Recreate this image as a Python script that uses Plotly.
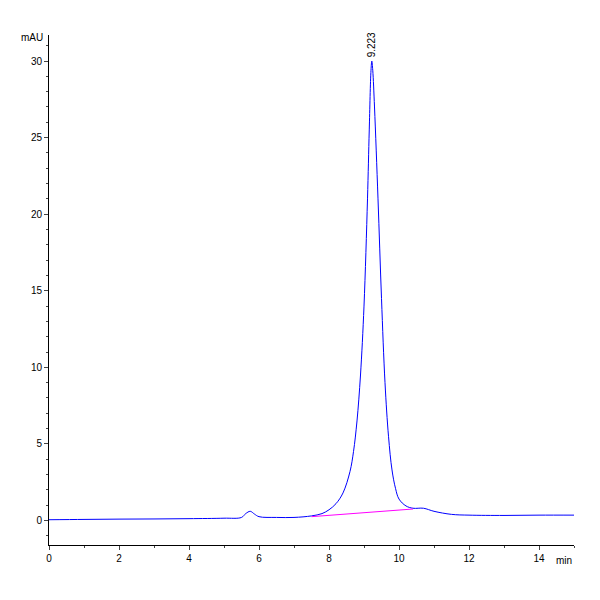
import plotly.graph_objects as go

# signal (min, mAU)
time_min = [0, 1, 2, 3, 4, 5, 5.5, 5.62, 5.75, 5.87, 6.0, 6.5, 7.0, 7.5, 7.8, 8.0, 8.2, 8.4,
            8.6, 8.7, 8.8, 8.9, 9.0, 9.1, 9.15, 9.2, 9.223, 9.25, 9.3, 9.4, 9.5, 9.6, 9.7,
            9.8, 9.9, 10.0, 10.2, 10.4, 10.7, 11.0, 11.5, 12, 13, 14, 15]
signal_mau = [0.05, 0.07, 0.09, 0.1, 0.12, 0.15, 0.2, 0.45, 0.6, 0.42, 0.25, 0.2, 0.2, 0.3,
              0.45, 0.7, 1.1, 1.8, 3.2, 4.5, 6.5, 9.5, 14, 21, 25.5, 29.4, 30, 29.4, 27, 21,
              14.5, 9, 5.5, 3.3, 2.1, 1.4, 0.95, 0.8, 0.8, 0.6, 0.4, 0.35, 0.33, 0.35, 0.35]

# integration baseline
base_x = [7.5, 10.4]
base_y = [0.25, 0.75]

peak_rt = 9.223
peak_h = 30

fig = go.Figure()
fig.add_trace(go.Scatter(x=time_min, y=signal_mau, mode='lines',
                         line=dict(color='#0000ff', width=1), line_shape='spline'))
fig.add_trace(go.Scatter(x=base_x, y=base_y, mode='lines',
                         line=dict(color='#ff00ff', width=1)))

fig.add_annotation(x=peak_rt, y=peak_h, text=f"{peak_rt:.3f}", textangle=-90,
                   showarrow=False, yanchor='bottom', yshift=2,
                   font=dict(size=10, color='black'))
fig.add_annotation(xref='paper', yref='paper', x=0, y=1.0, text="mAU", showarrow=False,
                   xanchor='right', yanchor='bottom', xshift=-4, yshift=-10,
                   font=dict(size=10, color='black'))
fig.add_annotation(xref='paper', yref='paper', x=1.0, y=0, text="min", showarrow=False,
                   xanchor='right', yanchor='top', yshift=-8,
                   font=dict(size=10, color='black'))

fig.update_layout(
    width=600, height=600, showlegend=False,
    plot_bgcolor='white', paper_bgcolor='white',
    margin=dict(l=41, r=34, t=27, b=63),
    font=dict(family='Liberation Sans', size=10, color='black'),
)
fig.update_xaxes(range=[0, 15], tickvals=[0, 2, 4, 6, 8, 10, 12, 14], showgrid=False,
                 zeroline=False, showline=True, linecolor='black', ticks='outside',
                 ticklen=4, minor=dict(dtick=1, ticks='outside', ticklen=2))
fig.update_yaxes(range=[-1.6, 31.7], tickvals=[0, 5, 10, 15, 20, 25, 30], showgrid=False,
                 zeroline=False, showline=True, linecolor='black', ticks='outside',
                 ticklen=4, minor=dict(dtick=1, ticks='outside', ticklen=2))

fig.write_html("out.html")
